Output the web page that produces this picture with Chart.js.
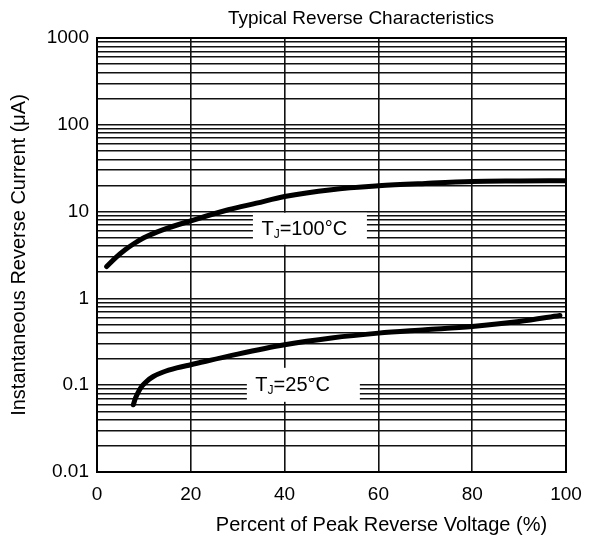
<!DOCTYPE html>
<html><head><meta charset="utf-8">
<script src="https://cdn.jsdelivr.net/npm/chart.js@4"></script>
<style>html,body{margin:0;padding:0;background:#fff}</style>
</head><body>
<canvas id="c" width="590" height="542"></canvas>
<script>
// ---- data ----
const chartTitle = 'Typical Reverse Characteristics';
const xAxisTitle = 'Percent of Peak Reverse Voltage (%)';
const yAxisTitle = 'Instantaneous Reverse Current (\u03BCA)';
const xTicks = [0, 20, 40, 60, 80, 100];
const yDecades = [0.01, 0.1, 1, 10, 100, 1000];
const yTickLabels = ['0.01', '0.1', '1', '10', '100', '1000'];

const x100 = [2.06, 4, 6, 8, 10, 14, 20, 28, 34, 40, 50, 60, 70, 80, 90, 100];
const y100 = [2.33, 2.95, 3.63, 4.32, 5.01, 6.17, 7.83, 10.5, 12.5, 14.9, 17.9, 19.8, 21.1, 22.2, 22.5, 22.7];

const x25 = [7.75, 8.2, 8.8, 9.6, 10.6, 12, 14, 17, 20, 30, 40, 50, 60, 70, 80, 90, 98.7];
const y25 = [0.0595, 0.0708, 0.0832, 0.0977, 0.111, 0.126, 0.141, 0.158, 0.172, 0.228, 0.292, 0.35, 0.398, 0.435, 0.475, 0.542, 0.636];

const curveNames = [['T', 'J', '=100\u00B0C'], ['T', 'J', '=25\u00B0C']];
const curveLabelAnchors = [{x: 45.4, y: 6.34}, {x: 44.0, y: 0.101}];

// ---- helpers ----
const FONT = "'Liberation Sans', Arial, Helvetica, sans-serif";
const yGrid = [];
yDecades.forEach((d, i) => {
  if (i === yDecades.length - 1) { yGrid.push({value: d, lbl: yTickLabels[i]}); return; }
  for (let k = 1; k <= 9; k++) yGrid.push({value: d * k, lbl: k === 1 ? yTickLabels[i] : ''});
});
const pts = (xs, ys) => xs.map((x, i) => ({x, y: ys[i]}));

const decor = {
  id: 'decor',
  beforeDatasetsDraw(chart) {
    const {ctx, chartArea: a, scales} = chart;
    ctx.save();
    ctx.strokeStyle = '#000';
    ctx.lineWidth = 2;
    ctx.strokeRect(a.left, a.top, a.right - a.left, a.bottom - a.top);
    curveLabelAnchors.forEach((p, i) => {
      const cx = scales.x.getPixelForValue(p.x);
      const cy = scales.y.getPixelForValue(p.y);
      const w = i === 0 ? 114 : 113, h = i === 0 ? 32 : 34;
      ctx.fillStyle = '#fff';
      ctx.fillRect(cx - w / 2, cy - h / 2, w, h);
      const [a1, sub, rest] = curveNames[i];
      ctx.fillStyle = '#000';
      ctx.textBaseline = 'alphabetic';
      ctx.textAlign = 'left';
      ctx.font = '20px ' + FONT;
      let x = cx - w / 2 + 8.5;
      const base = cy + 6;
      ctx.fillText(a1, x, base);
      x += ctx.measureText(a1).width;
      ctx.font = '12px ' + FONT;
      ctx.fillText(sub, x, base + 3);
      x += ctx.measureText(sub).width;
      ctx.font = '20px ' + FONT;
      ctx.fillText(rest, x, base);
    });
    ctx.restore();
  },
  afterDraw(chart) {
    const {ctx, chartArea: a} = chart;
    ctx.save();
    ctx.fillStyle = '#000';
    ctx.textAlign = 'center';
    ctx.textBaseline = 'alphabetic';
    ctx.font = '19px ' + FONT;
    ctx.fillText(chartTitle, a.left + 264, 24);
    ctx.font = '20px ' + FONT;
    ctx.fillText(xAxisTitle, a.left + 284.5, 531);
    ctx.restore();
  }
};

new Chart(document.getElementById('c'), {
  type: 'line',
  data: {
    datasets: [
      {label: 'TJ=100°C', data: pts(x100, y100)},
      {label: 'TJ=25°C', data: pts(x25, y25)}
    ].map(d => Object.assign(d, {
      borderColor: '#000', borderWidth: 5, pointRadius: 0,
      cubicInterpolationMode: 'monotone', fill: false, borderCapStyle: 'round', borderJoinStyle: 'round'
    }))
  },
  options: {
    responsive: false,
    animation: false,
    devicePixelRatio: 1,
    layout: {padding: {top: 38, right: 24, bottom: 0, left: 0}},
    plugins: {legend: {display: false}, title: {display: false}, tooltip: {enabled: false}},
    scales: {
      x: {
        type: 'linear', min: 0, max: 100,
        afterBuildTicks: s => { s.ticks = xTicks.map(v => ({value: v})); },
        afterFit: s => { s.height = 70; s.paddingLeft = 0; s.paddingRight = 0; },
        grid: {color: '#111', lineWidth: 1.6, drawTicks: false},
        border: {color: '#000', width: 2},
        ticks: {color: '#000', font: {size: 19, family: FONT}, padding: 11, maxRotation: 0, autoSkip: false}
      },
      y: {
        type: 'logarithmic', min: 0.01, max: 1000,
        afterBuildTicks: s => { s.ticks = yGrid.map(t => ({value: t.value, lbl: t.lbl})); },
        afterFit: s => { s.width = 97; },
        grid: {color: '#111', lineWidth: 1.6, drawTicks: false},
        border: {color: '#000', width: 2},
        ticks: {
          color: '#000', font: {size: 19, family: FONT}, padding: 8, autoSkip: false,
          callback: (v, i, ticks) => ticks[i].lbl
        },
        title: {display: true, text: yAxisTitle, color: '#000', font: {size: 20, family: FONT}, padding: {top: 7, bottom: 0}}
      }
    }
  },
  plugins: [decor]
});
</script>
</body></html>
